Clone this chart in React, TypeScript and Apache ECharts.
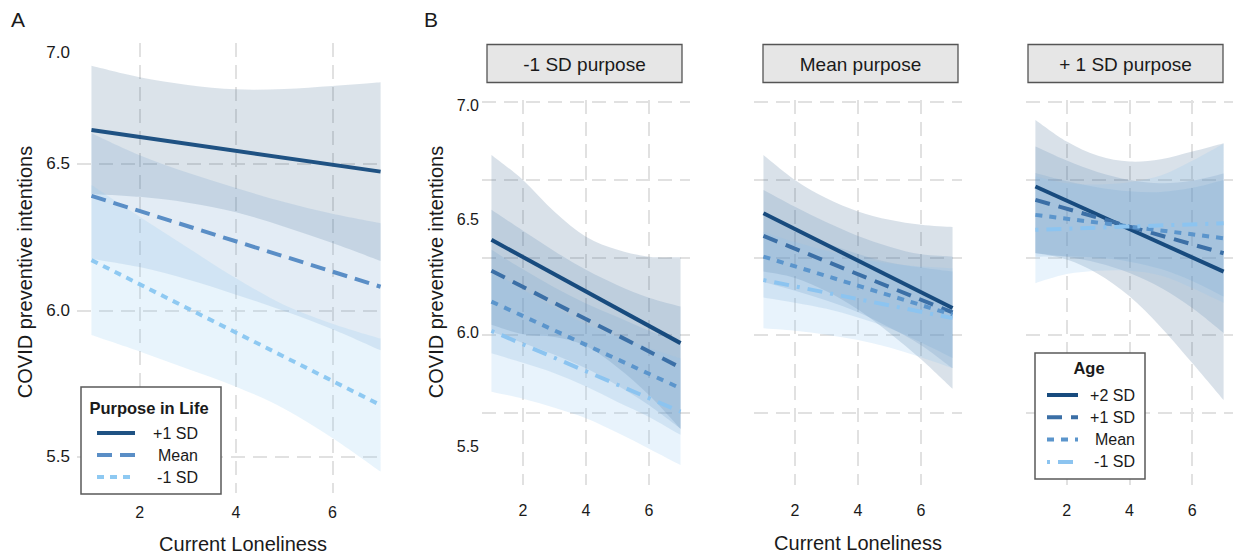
import React, { useEffect, useRef } from "react";
import * as echarts from "echarts";

const FONT = "'Liberation Sans', Arial, Helvetica, sans-serif";

// ---------- shared axis values ----------
const xTicks = [2, 4, 6];
const bandX = [1, 2, 3, 4, 5, 6, 7];
const lineX = [1, 7];

// ---------- Panel A : Purpose in Life ----------
const purposeLevels = ["+1 SD", "Mean", "-1 SD"];
const aYTicks = [5.5, 6.0, 6.5];
const aYLabels = [5.5, 6.0, 6.5, 6.88]; // the "7.0" label sits off-grid in the reference
const aLines = [
  [6.616, 6.474],
  [6.391, 6.081],
  [6.172, 5.677],
];
const aUpper = [
  [6.835, 6.796, 6.77, 6.755, 6.756, 6.766, 6.779],
  [6.605, 6.53, 6.47, 6.418, 6.37, 6.33, 6.298],
  [6.428, 6.32, 6.214, 6.11, 6.019, 5.955, 5.904],
];
const aLower = [
  [6.397, 6.388, 6.368, 6.335, 6.286, 6.23, 6.169],
  [6.177, 6.148, 6.106, 6.054, 5.998, 5.936, 5.864],
  [5.916, 5.86, 5.8, 5.74, 5.665, 5.565, 5.45],
];

// ---------- Panel B : Age within purpose facets ----------
const ageLevels = ["+2 SD", "+1 SD", "Mean", "-1 SD"];
const facetNames = ["-1 SD purpose", "Mean purpose", "+ 1 SD purpose"];
const bYLabels = [5.5, 6.0, 6.5, 7.0];
const bYGrid = [5.648, 5.991, 6.33, 6.674, 7.018]; // gridlines do not align with labels in the reference

const f1Lines = [
  [6.41, 5.955],
  [6.274, 5.847],
  [6.138, 5.756],
  [6.009, 5.653],
];
const f1Upper = [
  [6.784, 6.674, 6.534, 6.424, 6.366, 6.336, 6.333],
  [6.542, 6.45, 6.36, 6.278, 6.21, 6.155, 6.116],
  [6.366, 6.28, 6.2, 6.13, 6.07, 6.01, 5.961],
  [6.277, 6.19, 6.112, 6.038, 5.984, 5.934, 5.888],
];
const f1Lower = [
  [6.036, 5.994, 5.982, 5.942, 5.848, 5.726, 5.577],
  [6.006, 5.956, 5.904, 5.844, 5.768, 5.681, 5.578],
  [5.91, 5.868, 5.822, 5.764, 5.696, 5.63, 5.551],
  [5.741, 5.71, 5.67, 5.624, 5.56, 5.49, 5.418],
];

const f2Lines = [
  [6.527, 6.11],
  [6.427, 6.09],
  [6.336, 6.08],
  [6.233, 6.065],
];
const f2Upper = [
  [6.784, 6.674, 6.593, 6.535, 6.498, 6.476, 6.466],
  [6.63, 6.556, 6.487, 6.427, 6.38, 6.346, 6.336],
  [6.516, 6.453, 6.396, 6.348, 6.31, 6.288, 6.27],
  [6.445, 6.4, 6.362, 6.329, 6.306, 6.293, 6.285],
];
const f2Lower = [
  [6.27, 6.242, 6.183, 6.103, 6.0, 5.884, 5.754],
  [6.224, 6.186, 6.143, 6.091, 6.024, 5.946, 5.844],
  [6.156, 6.133, 6.106, 6.068, 6.02, 5.958, 5.89],
  [6.021, 6.01, 5.992, 5.969, 5.936, 5.893, 5.845],
];

const f3Lines = [
  [6.645, 6.27],
  [6.586, 6.351],
  [6.52, 6.417],
  [6.454, 6.483],
];
const f3Upper = [
  [6.938, 6.843, 6.78, 6.755, 6.765, 6.799, 6.836],
  [6.821, 6.759, 6.708, 6.674, 6.659, 6.67, 6.702],
  [6.704, 6.668, 6.641, 6.624, 6.621, 6.639, 6.674],
  [6.689, 6.659, 6.654, 6.664, 6.693, 6.758, 6.833],
];
const f3Lower = [
  [6.352, 6.323, 6.26, 6.161, 6.025, 5.867, 5.704],
  [6.351, 6.335, 6.308, 6.264, 6.199, 6.11, 6.0],
  [6.336, 6.338, 6.331, 6.314, 6.281, 6.229, 6.16],
  [6.219, 6.259, 6.274, 6.274, 6.253, 6.198, 6.133],
];

// ---------- styles ----------
const aColors = ["#1f5283", "#5a8ec6", "#8ec9f2"];
const aFills = ["rgba(31,78,127,0.16)", "rgba(91,141,196,0.17)", "rgba(142,200,240,0.2)"];
const aDash: any[] = ["solid", [15, 8], [7, 6]];
const bColors = ["#184b7e", "#3b6fa6", "#5b95cc", "#8cc4f0"];
const bFills = [
  "rgba(27,75,125,0.17)",
  "rgba(58,110,165,0.17)",
  "rgba(91,147,201,0.17)",
  "rgba(141,195,238,0.2)",
];
const bDash: any[] = ["solid", [15, 9], [7, 7], [3, 8, 15, 8]];

const GRID_COLOR = "#e1e1e1";
const TEXT = "#1a1a1a";
const LINE_W = 4;

// Catmull-Rom curve through pixel points, as cubic Bezier segments
function curveSegments(pts: number[][]): string {
  let d = "";
  for (let i = 0; i < pts.length - 1; i++) {
    const p0 = pts[i - 1] || pts[i];
    const p1 = pts[i];
    const p2 = pts[i + 1];
    const p3 = pts[i + 2] || p2;
    const c1x = p1[0] + (p2[0] - p0[0]) / 6;
    const c1y = p1[1] + (p2[1] - p0[1]) / 6;
    const c2x = p2[0] - (p3[0] - p1[0]) / 6;
    const c2y = p2[1] - (p3[1] - p1[1]) / 6;
    d += ` C${c1x},${c1y} ${c2x},${c2y} ${p2[0]},${p2[1]}`;
  }
  return d;
}

function bandSeries(ax: number, lower: number[], upper: number[], fill: string) {
  return {
    type: "custom",
    coordinateSystem: "cartesian2d",
    xAxisIndex: ax,
    yAxisIndex: ax,
    silent: true,
    z: 1,
    data: [[bandX[0], lower[0]]],
    renderItem: (_params: any, api: any) => {
      const up = bandX.map((x, k) => api.coord([x, upper[k]]));
      const lo = bandX.map((x, k) => api.coord([x, lower[k]])).reverse();
      let d = `M${up[0][0]},${up[0][1]}`;
      d += curveSegments(up);
      d += ` L${lo[0][0]},${lo[0][1]}`;
      d += curveSegments(lo);
      d += " Z";
      return {
        type: "path",
        shape: { pathData: d },
        style: { fill, stroke: "none" },
      };
    },
  };
}

function lineSeries(ax: number, vals: number[], color: string, dash: any, width: number) {
  return {
    type: "line",
    xAxisIndex: ax,
    yAxisIndex: ax,
    data: lineX.map((x, k) => [x, vals[k]]),
    symbol: "none",
    silent: true,
    z: 3,
    lineStyle: { color, width, type: dash, cap: "butt" },
  };
}

const splitLine = {
  show: true,
  lineStyle: { color: GRID_COLOR, width: 2, type: [14, 8] },
};

function xAxisFor(idx: number, max: number, margin: number) {
  return {
    type: "value",
    gridIndex: idx,
    min: 0.7,
    max,
    axisLine: { show: false },
    axisTick: { show: false, customValues: xTicks },
    axisLabel: { customValues: xTicks, fontSize: 16, color: TEXT, margin, fontFamily: FONT },
    splitLine,
  };
}

export default function App() {
  const ref = useRef<HTMLDivElement>(null);

  useEffect(() => {
    if (!ref.current) return;
    const chart = echarts.init(ref.current, undefined, { renderer: "svg" });

    const series: any[] = [];
    // Panel A
    purposeLevels.forEach((_, g) => {
      series.push(bandSeries(0, aLower[g], aUpper[g], aFills[g]));
    });
    purposeLevels.forEach((_, g) => {
      series.push(lineSeries(0, aLines[g], aColors[g], aDash[g], LINE_W));
    });
    // Panel B facets
    const facets = [
      { lines: f1Lines, up: f1Upper, lo: f1Lower },
      { lines: f2Lines, up: f2Upper, lo: f2Lower },
      { lines: f3Lines, up: f3Upper, lo: f3Lower },
    ];
    facets.forEach((f, i) => {
      const ax = i + 1;
      ageLevels.forEach((_, g) => {
        series.push(bandSeries(ax, f.lo[g], f.up[g], bFills[g]));
      });
      ageLevels.forEach((_, g) => {
        series.push(lineSeries(ax, f.lines[g], bColors[g], bDash[g], LINE_W));
      });
    });

    const facetLeft = [482, 754, 1026];
    const stripLeft = [487, 763, 1028];

    const graphic: any[] = [];
    const txt = (x: number, y: number, text: string, size: number, opts: any = {}) => ({
      type: "text",
      x,
      y,
      rotation: opts.rotation || 0,
      silent: true,
      z: 100,
      style: {
        text,
        fill: TEXT,
        fontSize: size,
        fontFamily: FONT,
        fontWeight: opts.bold ? "bold" : "normal",
        align: opts.align || "center",
        textAlign: opts.align || "center",
        verticalAlign: "middle",
        textVerticalAlign: "middle",
      },
    });

    graphic.push(txt(18, 19, "A", 21));
    graphic.push(txt(431, 19, "B", 21));
    graphic.push(txt(25, 272, "COVID preventive intentions", 20, { rotation: Math.PI / 2 }));
    graphic.push(txt(436, 272, "COVID preventive intentions", 20, { rotation: Math.PI / 2 }));
    graphic.push(txt(243, 544, "Current Loneliness", 20));
    graphic.push(txt(858, 543, "Current Loneliness", 20));

    facetNames.forEach((name, i) => {
      graphic.push({
        type: "rect",
        silent: true,
        z: 90,
        shape: { x: stripLeft[i], y: 44.5, width: 195, height: 38 },
        style: { fill: "#e6e6e6", stroke: "#555555", lineWidth: 1.3 },
      });
      graphic.push(txt(stripLeft[i] + 97.5, 64, name, 19));
    });

    // Legend A
    graphic.push({
      type: "rect",
      silent: true,
      z: 90,
      shape: { x: 81, y: 387, width: 140, height: 107 },
      style: { fill: "#ffffff", stroke: "#5a5a5a", lineWidth: 1.5 },
    });
    graphic.push(txt(149, 408, "Purpose in Life", 16.5, { bold: true }));
    purposeLevels.forEach((lab, g) => {
      const y = 433 + g * 22;
      graphic.push({
        type: "line",
        silent: true,
        z: 100,
        shape: { x1: 97, y1: y, x2: 135, y2: y },
        style: {
          stroke: aColors[g],
          lineWidth: LINE_W,
          lineDash: aDash[g] === "solid" ? null : aDash[g],
        },
      });
      graphic.push(txt(198, y, lab, 16, { align: "right" }));
    });

    // Legend B
    graphic.push({
      type: "rect",
      silent: true,
      z: 90,
      shape: { x: 1035, y: 353, width: 110, height: 126 },
      style: { fill: "#ffffff", stroke: "#5a5a5a", lineWidth: 1.5 },
    });
    graphic.push(txt(1089, 368, "Age", 16.5, { bold: true }));
    ageLevels.forEach((lab, g) => {
      const y = 395 + g * 22.3;
      graphic.push({
        type: "line",
        silent: true,
        z: 100,
        shape: { x1: 1047, y1: y, x2: 1078, y2: y },
        style: {
          stroke: bColors[g],
          lineWidth: LINE_W,
          lineDash: bDash[g] === "solid" ? null : bDash[g],
        },
      });
      graphic.push(txt(1135, y, lab, 16, { align: "right" }));
    });

    const option: any = {
      animation: false,
      textStyle: { fontFamily: FONT },
      grid: [
        { left: 77, top: 43, width: 306, height: 450 },
        ...facetLeft.map((l, i) => ({ left: l, top: 100, width: i === 2 ? 207 : 208, height: 385 })),
      ],
      xAxis: [xAxisFor(0, 7.05, 11), xAxisFor(1, 7.3, 17), xAxisFor(2, 7.3, 17), xAxisFor(3, 7.3, 17)],
      yAxis: [
        {
          type: "value",
          gridIndex: 0,
          min: 5.377,
          max: 6.913,
          axisLine: { show: false },
          axisTick: { show: false, customValues: aYTicks },
          axisLabel: {
            customValues: aYLabels,
            fontSize: 17,
            color: TEXT,
            margin: 7,
            fontFamily: FONT,
            formatter: (v: number) => (v > 6.8 ? "7.0" : v.toFixed(1)),
          },
          splitLine,
        },
        ...[1, 2, 3].map((idx) => ({
          type: "value",
          gridIndex: idx,
          min: 5.33,
          max: 7.026,
          axisLine: { show: false },
          axisTick: { show: false, customValues: bYGrid },
          axisLabel: {
            show: idx === 1,
            customValues: bYLabels,
            fontSize: 16,
            color: TEXT,
            margin: 3,
            fontFamily: FONT,
            formatter: (v: number) => v.toFixed(1),
          },
          splitLine,
        })),
      ],
      series,
      graphic,
    };

    chart.setOption(option);
    return () => chart.dispose();
  }, []);

  return (
    <div
      ref={ref}
      style={{ position: "fixed", left: 0, top: 0, width: 1233, height: 558, background: "#ffffff" }}
    />
  );
}
